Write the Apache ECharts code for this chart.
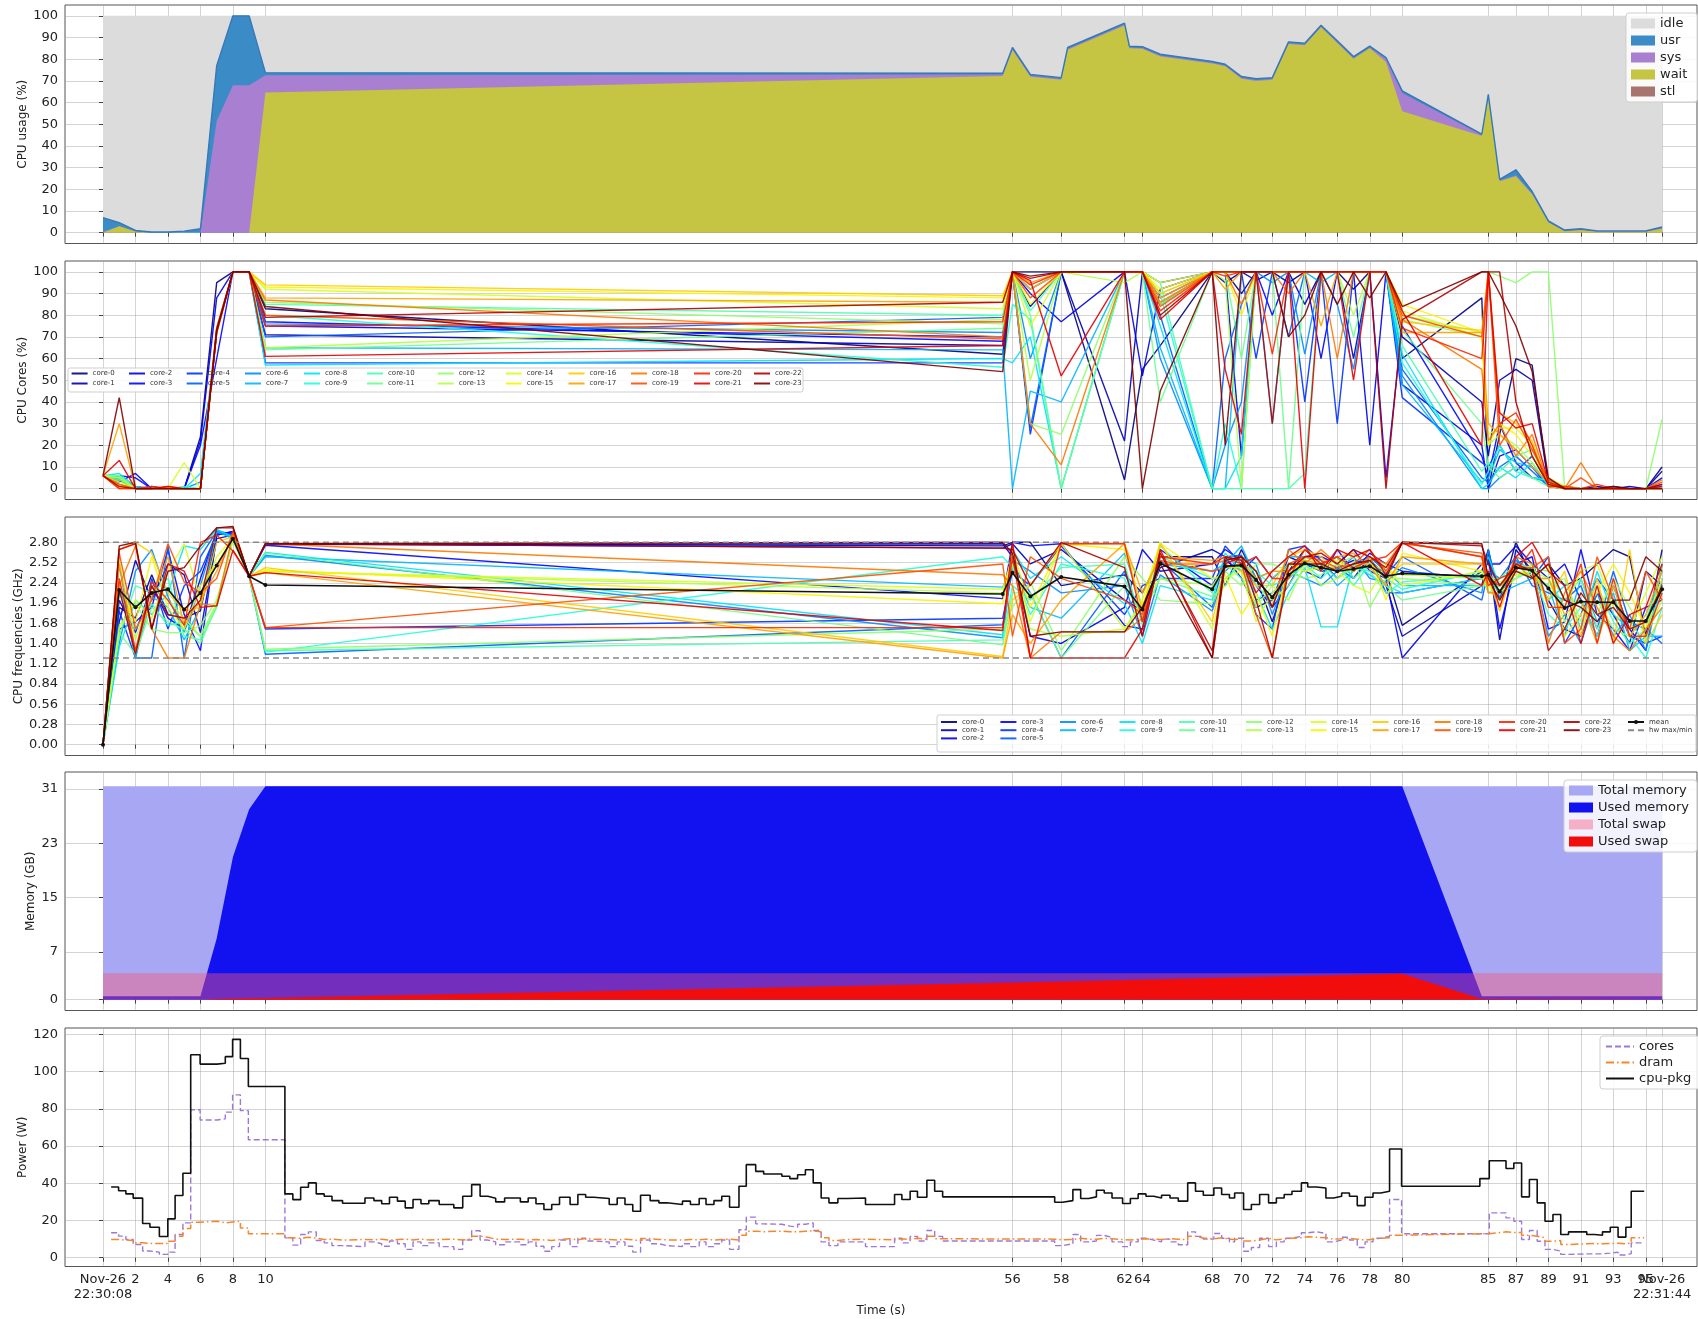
<!DOCTYPE html>
<html>
<head>
<meta charset="utf-8">
<script src="https://cdn.jsdelivr.net/npm/echarts@6/dist/echarts.min.js"></script>
<style>
  html, body { margin: 0; padding: 0; background: #fff; }
  #chart { width: 1698px; height: 1319px; }
</style>
</head>
<body>
<div id="chart"></div>
<script>
// shared x axis: seconds since 22:30:08, ticks sit on sample times
const tickPos = [2, 4, 6, 8, 10, 56, 59, 62.9, 64, 68.3, 70.1, 72, 74, 76, 78, 80, 85.3, 87, 89, 91, 93, 95];
const tickLabels = ['2', '4', '6', '8', '10', '56', '58', '62', '64', '68', '70', '72', '74', '76', '78', '80', '85', '87', '89', '91', '93', '95'];
const endPos = [0, 96];
const endLabels = ['Nov-26\n22:30:08', 'Nov-26\n22:31:44'];
const allTicks = endPos.concat(tickPos);

// ---- CPU usage (%) ----
const usageT = [0, 1, 2, 3, 4, 5, 6, 7, 8, 9, 10, 55.4, 56, 57.1, 59, 59.4, 62.9, 63.2, 64, 65.1, 68.3, 69.1, 70.1, 71, 72, 73, 74, 75, 76, 77, 78, 79, 80, 84.9, 85.3, 86, 87, 88, 89, 90, 91, 92, 93, 94, 95, 96];
const usr  = [6.5, 1.6, 0.5, 0.3, 0.3, 0.7, 1.8, 25.5, 32, 32, 1.2, 0.6, 0.6, 0.6, 0.6, 0.6, 0.6, 0.6, 0.6, 0.6, 0.6, 0.6, 0.6, 0.6, 0.6, 0.6, 0.6, 0.6, 0.6, 0.6, 0.6, 0.6, 1.0, 0.4, 0.6, 0.6, 2.5, 1.0, 0.5, 0.4, 0.5, 0.3, 0.3, 0.3, 0.3, 0.6];
const sys  = [0.4, 0, 0, 0, 0, 0, 0, 51.5, 68, 68, 8, 0.6, 0.5, 0.5, 0.4, 0.4, 0.4, 0.4, 0.4, 0.4, 0.4, 0.4, 0.4, 0.4, 0.4, 0.4, 0.4, 0.4, 0.4, 0.4, 0.4, 1.5, 8.4, 0.4, 0.4, 0.3, 0.5, 0.3, 0.2, 0.2, 0.2, 0.1, 0.1, 0.1, 0.1, 0.2];
const wait = [0, 3, 0.5, 0, 0, 0, 0, 0, 0, 0, 64.6, 72.3, 84.3, 71.9, 70.5, 84.4, 95.6, 85, 84.8, 81.3, 78, 76.7, 71, 70, 70.5, 87, 86.4, 94.7, 87.5, 80.2, 85, 78.7, 56, 44.6, 62.8, 23.7, 26, 17.7, 4.7, 0.6, 1.1, 0.4, 0.4, 0.4, 0.4, 1.8];
const stl  = [0, 0, 0, 0, 0, 0, 0, 0, 0, 0, 0, 0, 0, 0, 0, 0, 0, 0, 0, 0, 0, 0, 0, 0, 0, 0, 0, 0, 0, 0, 0, 0, 0, 0, 0, 0, 0, 0, 0, 0, 0, 0, 0, 0, 0, 0];
const idle = usageT.map((_, i) => +(100 - usr[i] - sys[i] - wait[i] - stl[i]).toFixed(2));

// ---- per-core samples (rows = sample time, columns = core-0 .. core-23) ----
const coreT = [0, 1, 2, 3, 4, 5, 6, 7, 8, 9, 10, 55.4, 56, 57.1, 59, 62.9, 64, 65.1, 68.3, 69.1, 70.1, 71, 72, 73, 74, 75, 76, 77, 78, 79, 80, 84.9, 85.3, 86, 87, 88, 89, 90, 91, 92, 93, 94, 95, 96];

const coreUtil = [
  [6,6,6,6,6,6,6,6,6,6,6,6,6,6,6,6,6,6,6,6,6,6,6,6],
  [5,4,3,6,5,2,6,5,7,6,5,4,6,5,3,2,1,30,0,2,0,13,1,42],
  [1,0,7,5,0,0,0,0,1,0,0,0,0,0,0,0,0,0,0,0,0,0,0,0],
  [0,0,0,0,1,0,0,0,0,0,0,0,0,0,0,0,0,0,0,0,1,0,0,0],
  [0,0,0,0,0,0,0,0,0,0,0,0,0,0,0,0,0,0,0,1,0,1,0,0],
  [0,0,0,0,0,0,0,0,0,1,0,0,0,0,12,0,0,0,0,0,0,0,0,0],
  [24,0,22,20,0,0,3,0,7,0,0,0,0,0,0,0,0,0,0,0,0,0,0,0],
  [95,72,88,60,73,74,72,73,74,73,72,73,74,73,72,73,74,73,72,73,74,72,73,73],
  [100,100,100,100,100,100,100,100,100,100,100,100,100,100,100,100,100,100,100,100,100,100,100,100],
  [100,100,100,100,100,100,100,100,100,100,100,100,100,100,100,100,100,100,100,100,100,100,100,100],
  [83,71,75,77,58,70,76,65,57,80,85,64,86,65,92,93,94,88,87,80,75,61,79,84],
  [62,66,70,68,58,79,72,64,60,56,80,74,76,78,83,88,89,86,70,69,77,66,86,54],
  [100,100,100,100,100,100,100,0,58,85,100,100,100,100,100,100,100,100,100,100,100,100,100,100],
  [100,84,90,92,25,28,60,45,70,78,82,80,30,50,75,85,92,95,30,88,94,96,97,98],
  [100,100,77,100,100,100,100,40,0,0,100,0,25,100,100,100,100,100,11,100,100,52,100,100],
  [4,22,100,100,100,100,100,100,100,100,100,100,100,95,100,100,100,100,100,100,100,100,100,100],
  [55,100,52,100,100,100,100,100,100,100,100,100,100,100,100,100,100,100,100,100,100,100,100,0],
  [66,85,92,95,88,80,60,65,75,90,95,40,85,90,95,92,90,88,86,84,82,78,80,45],
  [100,100,100,100,100,0,0,0,0,0,0,100,100,100,100,100,100,100,100,100,100,100,100,100],
  [100,95,100,100,100,60,20,0,0,30,0,100,100,96,100,100,100,92,100,100,98,55,100,20],
  [90,100,15,100,100,85,40,100,15,0,0,60,100,0,100,80,100,100,85,100,100,25,100,100],
  [100,96,100,100,60,100,100,100,100,100,0,100,100,100,100,100,100,100,100,100,100,100,100,100],
  [100,100,100,80,100,100,95,30,100,100,0,100,100,100,100,100,100,100,100,100,62,100,30,100],
  [95,100,100,100,100,70,100,100,100,100,0,0,100,100,100,100,100,100,90,100,100,100,100,70],
  [100,85,100,100,40,100,62,100,100,100,7,100,100,100,100,100,100,100,100,100,100,0,100,80],
  [100,100,60,100,100,100,100,95,100,100,100,100,100,100,100,100,100,75,100,100,100,100,100,100],
  [100,100,100,100,30,100,85,100,100,100,100,100,100,100,100,100,100,100,60,100,100,100,100,85],
  [92,60,100,100,100,100,55,100,100,100,100,70,100,80,100,100,100,100,100,100,100,50,100,100],
  [100,100,20,100,100,100,100,100,100,100,100,100,100,100,100,100,100,100,100,100,100,100,100,88],
  [100,100,100,5,100,100,100,100,100,100,100,100,100,100,100,100,100,100,100,100,100,100,0,100],
  [60,70,48,75,42,55,52,48,62,58,66,73,78,80,82,85,77,72,78,80,74,82,78,84],
  [88,40,20,15,12,5,0,3,0,2,8,30,70,72,70,72,73,72,55,70,60,20,100,100],
  [0,15,0,5,10,3,0,5,2,8,12,10,100,20,25,20,100,30,22,100,100,100,100,100],
  [25,50,15,30,20,10,5,18,10,20,8,5,98,25,28,30,35,25,30,20,30,35,100,90],
  [60,55,18,12,8,15,10,12,5,8,15,10,95,20,28,25,30,18,15,32,35,28,40,75],
  [57,50,10,5,15,8,5,10,12,5,18,5,100,12,20,15,22,10,25,18,20,30,15,54],
  [2,3,1,4,2,1,3,2,1,4,2,1,100,3,2,5,1,3,2,4,1,3,2,5],
  [1,0,0,1,0,0,1,0,0,0,0,0,1,0,0,1,0,0,0,0,1,0,0,0],
  [0,0,0,0,0,0,0,0,0,0,0,0,0,0,0,0,0,0,12,5,0,0,0,0],
  [0,1,0,0,0,0,0,0,0,0,0,0,0,0,0,0,0,0,0,0,2,0,0,0],
  [1,0,0,0,0,0,0,0,0,0,0,0,0,0,0,0,0,0,0,0,0,0,0,1],
  [0,1,0,0,0,0,0,0,0,0,0,0,0,0,0,0,0,0,0,0,0,0,0,0],
  [0,0,0,0,0,0,0,0,0,0,0,0,0,0,0,0,0,0,0,0,0,0,0,0],
  [10,8,5,2,0,1,0,0,0,0,0,0,32,0,0,0,0,0,4,3,0,1,2,0]
];

const coreFreq = [
  [0,0,0,0,0,0,0,0,0,0,0,0,0,0,0,0,0,0,0,0,0,0,0,0],
  [1.9,1.7,2.0,1.6,1.85,2.5,1.4,2.25,1.35,2.1,1.5,1.55,1.65,2.55,1.6,2.2,2.7,2.5,2.2,2.65,2.3,2.7,2.15,2.75],
  [1.75,2.55,1.55,1.7,1.2,1.2,2.4,1.2,2.0,1.6,2.2,1.25,1.95,1.45,2.0,1.7,2.8,1.3,2.75,1.6,1.3,2.78,1.25,2.8],
  [2.35,2.0,2.2,1.9,2.3,1.2,2.7,2.05,1.8,1.95,2.1,1.9,1.6,2.2,1.75,2.6,2.65,2.05,1.6,2.0,2.25,1.6,2.2,1.6],
  [1.8,2.5,1.75,2.7,1.6,2.75,2.05,1.9,2.1,1.65,2.3,1.7,1.55,2.0,2.4,1.9,2.1,2.6,1.2,2.78,2.0,2.5,1.8,2.4],
  [1.75,2.35,1.6,1.8,2.2,1.2,1.55,1.45,2.75,1.7,1.5,1.6,1.55,1.75,2.78,1.6,1.85,1.65,1.2,2.25,1.65,2.4,1.75,2.45],
  [1.85,1.55,2.3,1.3,2.4,2.6,2.2,1.9,2.7,1.5,1.45,1.4,1.65,1.5,2.0,2.2,1.9,2.0,1.95,2.1,2.8,1.9,2.0,2.75],
  [2.9,2.85,2.95,2.9,2.92,2.95,2.97,2.95,2.98,1.95,1.9,1.92,2.0,1.95,2.6,2.5,2.8,2.4,1.92,2.3,2.9,1.92,3.0,3.0],
  [2.95,2.9,2.92,2.95,2.9,2.9,2.88,2.85,2.87,2.85,2.86,2.85,2.82,2.84,2.86,2.85,2.88,2.9,2.92,2.95,2.68,2.69,3.0,3.02],
  [2.33,2.33,2.33,2.33,2.33,2.33,2.33,2.33,2.33,2.33,2.33,2.33,2.33,2.33,2.33,2.33,2.33,2.33,2.33,2.33,2.33,2.33,2.33,2.33],
  [2.78,2.78,2.77,2.76,1.6,1.25,2.62,2.6,2.66,1.28,1.3,2.65,1.32,2.4,2.4,2.42,2.45,2.38,2.78,1.62,1.62,2.38,2.78,2.78],
  [2.75,2.72,2.78,2.02,1.75,1.66,1.48,2.18,1.52,2.6,1.45,1.38,1.6,2.1,2.15,1.95,1.22,1.2,2.35,2.5,1.62,1.58,2.72,2.8],
  [2.8,2.78,2.6,2.8,2.4,2.5,2.55,2.45,2.7,2.45,2.2,2.1,1.9,2.5,2.6,2.7,2.0,1.8,2.2,1.5,2.6,2.8,2.7,2.65],
  [2.8,2.5,1.5,2.75,2.2,2.1,2.4,1.9,2.3,1.8,2.0,2.1,2.25,1.6,1.7,1.9,2.2,1.4,1.2,2.6,1.2,1.2,2.2,1.5],
  [2.2,2.7,1.4,2.78,2.75,1.2,2.1,1.75,2.6,2.5,2.45,1.2,1.3,1.5,2.78,2.78,2.78,2.0,1.56,2.3,2.78,1.2,2.8,1.56],
  [2.35,2.0,1.9,1.65,1.8,2.4,2.2,2.65,1.95,2.3,2.5,2.2,2.6,1.6,1.6,2.7,2.78,2.78,1.56,2.0,2.78,1.2,2.45,1.56],
  [2.1,1.85,2.7,1.6,2.2,1.7,1.5,1.9,1.4,1.75,1.65,1.8,2.3,1.95,2.0,1.9,1.85,2.1,1.75,1.8,1.7,1.6,1.5,1.9],
  [2.6,2.45,2.4,2.7,2.3,2.55,2.35,2.5,2.2,2.6,2.75,2.3,2.0,2.3,2.8,2.78,2.78,2.6,2.5,2.55,2.6,2.7,2.65,2.5],
  [2.6,2.7,2.5,2.2,2.3,1.9,1.85,2.4,2.0,2.3,2.1,2.05,1.95,2.2,1.6,2.3,1.7,2.55,2.5,2.4,2.5,1.2,1.3,1.2],
  [2.2,2.6,2.7,2.55,2.75,2.6,2.4,2.5,2.65,2.3,2.5,2.2,2.4,2.45,2.3,2.35,2.5,2.6,2.55,2.45,2.6,2.5,2.6,2.55],
  [2.7,2.3,2.55,2.4,2.5,2.62,2.6,2.75,2.4,2.5,2.3,2.6,2.2,2.45,2.4,1.8,2.4,2.55,2.6,2.5,2.5,2.6,2.55,2.6],
  [2.3,1.9,2.2,2.6,1.8,2.0,2.5,2.3,2.1,2.4,1.95,2.2,2.5,1.9,1.7,2.1,2.2,2.3,2.4,1.8,2.6,2.1,2.0,2.4],
  [1.7,2.0,1.9,2.3,1.6,2.1,1.8,2.4,1.6,2.2,2.3,2.0,2.5,2.2,2.1,1.5,2.2,2.4,1.9,1.2,2.3,2.4,1.2,1.9],
  [2.4,2.6,2.2,2.5,2.7,2.3,2.4,2.6,2.1,2.3,2.5,2.2,2.4,2.0,2.3,2.5,2.6,2.4,2.7,2.5,2.3,2.6,2.4,2.5],
  [2.7,2.5,2.6,2.4,2.75,2.5,2.3,2.6,2.45,2.5,2.4,2.55,2.3,2.5,2.6,2.4,2.7,2.55,2.5,2.6,2.7,2.75,2.6,2.5],
  [2.5,2.4,2.6,2.3,2.55,2.4,2.2,2.5,1.63,2.3,2.5,2.4,2.35,2.2,2.5,2.45,2.6,2.5,2.7,2.55,2.5,2.4,2.65,2.5],
  [2.6,2.45,2.5,2.7,2.3,2.45,2.4,2.2,1.63,2.5,2.3,2.6,2.5,2.3,2.4,2.55,2.4,2.6,2.5,2.45,2.6,2.7,2.5,2.4],
  [2.3,2.55,2.7,2.4,2.5,2.3,2.6,2.4,2.5,2.2,2.45,2.3,2.6,2.5,2.2,2.4,2.5,2.65,2.4,2.5,2.45,2.6,2.7,2.5],
  [2.6,2.5,2.4,2.65,2.6,2.55,2.3,2.6,2.35,2.5,2.4,2.5,1.9,2.5,2.1,2.6,2.5,2.45,2.6,2.7,2.55,2.7,2.6,2.55],
  [2.4,2.2,2.3,2.5,2.1,2.35,2.25,2.4,2.2,2.3,2.1,2.2,2.3,2.4,2.5,2.0,2.3,2.2,2.5,2.4,2.6,2.35,2.45,2.3],
  [1.65,1.5,1.2,2.4,2.1,2.6,2.45,2.2,2.1,2.15,2.25,2.0,2.3,2.35,2.2,2.65,2.5,2.6,2.8,2.78,2.8,2.8,2.8,2.8],
  [2.4,2.2,2.5,2.3,2.3,2.0,2.1,2.2,2.3,2.4,2.35,2.2,2.2,2.3,2.4,2.4,2.5,2.5,2.6,2.65,2.6,2.2,2.75,2.78],
  [2.7,2.6,2.5,2.65,2.55,2.4,2.7,2.3,2.6,2.2,2.1,2.3,2.2,2.3,2.1,2.2,2.3,2.4,2.1,2.3,2.2,2.4,2.5,2.3],
  [2.0,1.45,2.5,1.6,2.2,2.3,2.0,2.1,2.2,2.3,2.2,2.3,2.2,2.25,2.1,2.0,1.85,2.1,2.1,2.2,2.3,1.9,2.2,2.0],
  [2.8,2.7,2.75,2.5,2.4,2.6,2.55,2.2,2.3,2.4,2.3,2.5,2.4,2.35,2.3,2.4,2.5,2.5,2.6,2.45,2.4,2.6,2.5,2.4],
  [2.3,2.4,2.5,2.6,2.3,2.2,2.4,2.3,2.5,2.3,2.4,2.45,2.35,2.4,2.5,2.3,2.4,2.3,2.5,2.45,2.7,2.8,2.4,2.3],
  [2.5,2.0,2.3,1.6,2.6,2.1,1.5,2.2,2.0,2.3,1.8,2.4,2.2,2.3,1.9,2.5,2.0,2.3,1.4,2.6,1.9,2.4,1.3,2.5],
  [2.2,1.6,2.5,1.7,1.4,2.0,1.8,1.5,2.2,1.9,1.6,2.0,2.3,1.7,1.9,1.5,2.4,1.8,2.1,1.4,1.9,2.2,1.6,2.0],
  [2.3,1.5,2.0,2.7,1.8,2.2,1.4,2.3,1.6,2.0,1.9,2.3,1.7,2.1,2.4,1.8,1.5,2.0,2.4,1.6,2.5,1.4,2.1,1.9],
  [2.5,2.1,1.5,1.8,2.3,1.6,2.1,1.7,2.4,1.5,2.2,1.6,2.0,1.8,2.5,2.1,2.3,1.4,1.9,2.6,1.4,2.2,1.8,1.7],
  [2.7,1.8,2.2,1.6,2.0,2.4,1.5,2.1,1.8,2.2,1.7,2.0,1.6,2.3,1.9,2.5,1.4,2.2,1.5,2.0,2.3,1.4,1.9,2.0],
  [2.6,1.4,1.6,1.3,1.5,1.7,1.8,1.3,1.6,1.5,1.4,1.7,1.5,1.9,1.6,2.1,2.7,1.5,1.3,1.6,1.5,1.8,1.6,2.0],
  [1.5,2.4,1.3,1.9,1.4,1.6,1.3,1.5,1.7,1.2,1.6,1.4,1.8,1.5,2.1,1.6,1.4,1.8,1.6,2.4,1.5,1.9,1.7,2.6],
  [2.7,2.2,2.5,2.0,1.5,1.4,2.3,1.5,2.4,1.9,2.1,2.5,2.2,2.0,2.6,2.3,1.8,2.4,1.9,2.0,2.1,2.5,2.2,2.4]
];
const freqMean = [0, 2.14, 1.90, 2.10, 2.15, 1.87, 2.10, 2.48, 2.85, 2.33, 2.21, 2.085, 2.38, 2.05, 2.32, 2.19, 1.87, 2.51, 2.15, 2.47, 2.48, 2.28, 2.04, 2.35, 2.51, 2.45, 2.40, 2.43, 2.47, 2.33, 2.37, 2.33, 2.35, 2.12, 2.45, 2.41, 2.16, 1.89, 1.98, 1.97, 1.97, 1.71, 1.71, 2.15];
const hwMax = 2.8, hwMin = 1.2;

// ---- memory (GB) ----
const memT       = [0, 5, 6, 7, 8, 9, 10, 55.4, 80, 84.9, 96];
const memTotal   = [31.4, 31.4, 31.4, 31.4, 31.4, 31.4, 31.4, 31.4, 31.4, 31.4, 31.4];
const memUsed    = [0.5, 0.5, 0.5, 9, 21, 28, 31.4, 31.4, 31.4, 0.5, 0.5];
const swapTotal  = [3.9, 3.9, 3.9, 3.9, 3.9, 3.9, 3.9, 3.9, 3.9, 3.9, 3.9];
const swapUsed   = [0, 0, 0, 0.1, 0.15, 0.2, 0.25, 2.5, 3.8, 0.1, 0.05];

// ---- power (W), each value holds from its time to the next ----
const powerT = [
  0.5, 0.96, 1.41, 1.86, 2.44, 2.89, 3.47, 3.99, 4.44, 4.92,
  5.40, 5.98, 7.02, 7.53, 7.98, 8.46, 8.95, 11.2, 11.69, 12.17,
  12.65, 13.13, 13.62, 14.1, 14.75, 16.13, 16.68, 17.16, 17.64, 18.13,
  18.61, 19.09, 19.58, 20.06, 20.7, 21.6, 22.15, 22.7, 23.22, 23.7,
  24.18, 24.73, 25.7, 26.18, 26.66, 27.15, 27.63, 28.11, 28.76, 29.24,
  29.72, 30.21, 31.17, 31.66, 32.14, 32.62, 33.1, 33.69, 34.23, 34.72,
  35.68, 36.17, 36.71, 37.13, 37.62, 38.1, 38.58, 39.16, 39.61, 40.19,
  40.68, 41.8, 42.29, 42.77, 43.25, 43.73, 44.22, 44.7, 45.25, 45.83,
  46.95, 48.74, 49.19, 49.7, 50.15, 50.73, 51.21, 51.7, 58.6, 59.08,
  59.72, 60.2, 60.69, 61.17, 61.65, 62.13, 62.78, 63.26, 63.74, 64.22,
  64.7, 65.18, 65.7, 66.21, 66.79, 67.27, 67.75, 68.4, 68.88, 69.36,
  69.68, 70.23, 70.71, 71.22, 71.77, 72.25, 72.73, 73.21, 73.79, 74.18,
  74.72, 75.3, 75.78, 76.27, 76.75, 77.23, 77.71, 78.2, 78.68, 79.22,
  79.96, 84.78, 85.36, 86.39, 86.87, 87.35, 87.83, 88.31, 88.79, 89.28,
  89.76, 90.24, 91.36, 91.85, 92.33, 92.81, 93.29, 93.77, 94.1, 94.9
];
const pkgW = [
  38, 36, 34.3, 32, 18.4, 16.4, 11.4, 20.9, 33.4, 45.4,
  109, 104, 104.5, 108, 117.3, 107, 92, 34.3, 31.2, 37.9,
  40.2, 34.3, 33, 30.7, 29.3, 32.1, 30.7, 29, 32.5, 30.4,
  26.8, 31.3, 29, 30.7, 28.6, 26.8, 33, 39.3, 33, 32,
  30, 32.1, 30, 32.1, 29, 25.9, 28.6, 32.5, 28.6, 34,
  32.5, 31.8, 28.6, 32.1, 28.6, 25, 33.6, 30.7, 29.5, 28.6,
  30.4, 28.6, 31.8, 28.6, 30.7, 33, 27.1, 38.4, 50, 46.4,
  45, 43.75, 42.5, 44.6, 47.3, 40.2, 32.1, 29.5, 31.8, 32.1,
  28.6, 34, 31.3, 35.7, 32.5, 41.6, 35.7, 32.7, 29.8, 30.7,
  36.6, 31.8, 32.7, 36.25, 34.8, 32.1, 29.1, 31.8, 34.3, 33,
  32.1, 33.6, 32.1, 30.4, 40.2, 35.7, 33.6, 37.5, 34, 32.1,
  34.8, 25.9, 28.6, 34, 29.5, 32.1, 34, 35.7, 40.2, 38,
  37.5, 32.1, 33, 34.8, 33, 28, 32.5, 34.8, 35.7, 58.4,
  38.4, 42.5, 52.1, 47.9, 50.9, 32.7, 42, 29.5, 19.6, 23.2,
  12.5, 13.9, 12.5, 12.1, 13.9, 16.4, 11.1, 16.4, 35.7, 35.7
];
const coresW = [
  13.4, 11.6, 9.8, 7.1, 3.6, 3, 1.8, 3, 12.5, 18.75,
  79.5, 74, 74.6, 78.2, 87.5, 79, 63.4, 10.7, 6.8, 12.5,
  13.9, 9.3, 8, 6.5, 6, 8.5, 7.5, 6.2, 9, 7.5,
  4.5, 8.5, 6.5, 8, 6, 4.5, 9.5, 14.5, 9.5, 8.5,
  7, 8.5, 7, 8.5, 6.2, 3.5, 6, 9.5, 6, 10.5,
  9, 8.5, 6, 8.5, 6.2, 3, 9.5, 7.5, 6.5, 6,
  7.5, 6, 8.5, 6, 7.5, 9.5, 4.5, 15, 21.8, 18.2,
  18, 17, 16.5, 18, 18.75, 14.6, 8.5, 6.5, 8.5, 8.5,
  6, 10.5, 8, 11.5, 9, 14.6, 11.5, 9, 6.5, 7.5,
  12.5, 8.5, 9, 12, 11, 8.5, 6, 8.5, 10.5, 9.5,
  8.5, 10, 8.5, 7, 13.9, 11.5, 10, 13, 10.5, 8.5,
  10.5, 3.5, 5.5, 10.5, 6, 8.5, 10.5, 11.5, 13.4, 14,
  13, 8.5, 9.5, 11, 9.5, 5.5, 8.5, 10.5, 11.5, 31.25,
  12.9, 12.9, 24.1, 21.4, 19.6, 9.8, 14.6, 8.9, 4.5, 3.6,
  1.8, 2.1, 2.1, 2.1, 2.5, 3, 1.5, 2.2, 8, 8
];
const dramW = [
  9.8, 9.5, 9.3, 8, 7.7, 7.7, 7.7, 8.9, 11.6, 15.7,
  19.1, 19.6, 18.75, 19.2, 19.6, 16, 12.9, 10.7, 10.4, 11,
  10.5, 9.8, 10, 9.5, 9.8, 9.6, 10, 9.5, 9.8, 10,
  9.5, 10, 9.6, 9.8, 10, 9.5, 10.2, 11.6, 11, 10,
  9.8, 10, 9.5, 9.8, 9.6, 9.3, 9.8, 10.2, 9.6, 10.3,
  10, 9.8, 9.5, 10, 9.6, 9.2, 10.3, 9.8, 9.6, 9.5,
  9.8, 9.6, 10, 9.5, 9.8, 10, 9.5, 12.1, 14.3, 14,
  14.3, 14, 13.9, 14.2, 14.5, 13.9, 10.7, 9.3, 9.8, 10,
  9.6, 10.2, 9.8, 10.5, 10, 11.5, 10.2, 10, 9.6, 9.8,
  10.5, 10, 10, 10.5, 10.2, 9.8, 9.5, 9.8, 10.2, 10,
  9.8, 10.2, 10, 9.6, 11.5, 10.6, 10.2, 10.8, 10, 9.8,
  10.2, 9, 9.5, 10.4, 9.6, 10, 10.5, 10.8, 11.3, 11,
  10.8, 10, 10.2, 10.5, 10, 9.5, 10, 10.4, 10.8, 12.1,
  12.9, 12.9, 13.9, 13.5, 13.5, 12.1, 11.5, 10.7, 8.9, 9.2,
  7.1, 7.5, 7.6, 7.5, 7.6, 7.8, 7.5, 8, 10.7, 10.7
];

// ---- layout / style ----
const TOPS = [5, 261, 517, 772, 1028];
const PH = 238.5;
const X_MIN = -2.34, X_MAX = 98.15;
const GRID_C = 'rgba(160,160,160,0.45)';
const TXT = '#222';
const N_CORES = 24;

function jet(v) {
  const c = x => Math.round(255 * Math.max(0, Math.min(1, x)));
  const r = v < 0.35 ? 0 : v < 0.66 ? (v - 0.35) / 0.31 : v < 0.89 ? 1 : 1 - 0.5 * (v - 0.89) / 0.11;
  const g = v < 0.125 ? 0 : v < 0.375 ? (v - 0.125) / 0.25 : v < 0.64 ? 1 : v < 0.91 ? 1 - (v - 0.64) / 0.27 : 0;
  const b = v < 0.11 ? 0.5 + 0.5 * v / 0.11 : v < 0.34 ? 1 : v < 0.65 ? 1 - (v - 0.34) / 0.31 : 0;
  return `rgb(${c(r)},${c(g)},${c(b)})`;
}
const coreColors = Array.from({ length: N_CORES }, (_, i) => jet(i / (N_CORES - 1)));
const coreNames = Array.from({ length: N_CORES }, (_, i) => 'core-' + i);

const pairs = (xs, ys) => xs.map((x, i) => [x, ys[i]]);
const labelFor = (pos, labels) => v => { const k = pos.findIndex(p => Math.abs(p - v) < 1e-6); return k >= 0 ? labels[k] : ''; };

function xAxisFor(i) {
  const last = i === 4;
  return {
    type: 'value', gridIndex: i, min: X_MIN, max: X_MAX, position: 'bottom',
    z: (i === 0 || i === 3) ? 3 : 0,
    axisLine: { show: false },
    axisTick: { show: true, customValues: allTicks, length: 4, lineStyle: { color: '#444' } },
    axisLabel: {
      show: last, customValues: tickPos, interval: 0, fontSize: 13, color: TXT, margin: 6, lineHeight: 15,
      formatter: labelFor(tickPos, tickLabels)
    },
    splitLine: { show: true, lineStyle: { color: GRID_C, width: 1 } },
    name: last ? 'Time (s)' : '', nameLocation: 'middle', nameGap: 38,
    nameTextStyle: { fontSize: 12, color: TXT }
  };
}
// second bottom axis on the last panel that only carries the two date labels
const endAxis = {
  type: 'value', gridIndex: 4, min: X_MIN, max: X_MAX, position: 'bottom',
  axisLine: { show: false }, axisTick: { show: false }, splitLine: { show: false },
  axisLabel: { customValues: endPos, interval: 0, fontSize: 13, color: TXT, margin: 6, lineHeight: 15,
    formatter: labelFor(endPos, endLabels) }
};

function yAxisFor(i, name, min, max, ticks, gap, fmt) {
  return {
    type: 'value', gridIndex: i, min, max,
    z: (i === 0 || i === 3) ? 3 : 0,
    name, nameLocation: 'middle', nameRotate: 90, nameGap: gap, nameMoveOverlap: false,
    nameTextStyle: { fontSize: 12, color: TXT },
    axisLine: { show: false },
    axisTick: { show: true, customValues: ticks, length: 4, lineStyle: { color: '#444' } },
    axisLabel: { customValues: ticks, fontSize: 13, color: TXT, margin: 7, formatter: fmt || (v => String(v)) },
    splitLine: { show: true, lineStyle: { color: GRID_C, width: 1 } }
  };
}

const pctTicks = [0, 10, 20, 30, 40, 50, 60, 70, 80, 90, 100];
const freqTicks = [0, 0.28, 0.56, 0.84, 1.12, 1.40, 1.68, 1.96, 2.24, 2.52, 2.80];
const memTicks = [0, 7, 15, 23, 31];
const powTicks = [0, 20, 40, 60, 80, 100, 120];

const series = [];

// panel 1: stacked cpu usage, drawn as cumulative areas from the top layer down
const layers = [['stl', stl, '#a8756e'], ['wait', wait, '#c5c443'], ['sys', sys, '#a97fd1'], ['usr', usr, '#3b8bc6'], ['idle', idle, '#dcdcdc']];
let running = usageT.map(() => 0);
const cumLayers = layers.map(([name, arr, color]) => {
  running = running.map((v, i) => v + arr[i]);
  return [name, running.slice(), color];
});
cumLayers.slice().reverse().forEach(([name, cum, color]) => {
  series.push({
    name, type: 'line', xAxisIndex: 0, yAxisIndex: 0, symbol: 'none',
    color, itemStyle: { color },
    lineStyle: { width: name === 'usr' ? 1.4 : 0, color: name === 'usr' ? '#3579b8' : color },
    areaStyle: { color, opacity: 1 },
    data: pairs(usageT, cum)
  });
});

// panel 2: per-core usage
for (let c = 0; c < N_CORES; c++) {
  series.push({
    name: coreNames[c], type: 'line', xAxisIndex: 1, yAxisIndex: 1, symbol: 'none',
    color: coreColors[c], lineStyle: { width: 1.4, color: coreColors[c], opacity: 0.9 },
    data: coreT.map((t, i) => [t, coreUtil[i][c]])
  });
}

// panel 3: per-core frequency
for (let c = 0; c < N_CORES; c++) {
  series.push({
    name: coreNames[c], type: 'line', xAxisIndex: 2, yAxisIndex: 2, symbol: 'none',
    color: coreColors[c], lineStyle: { width: 1.4, color: coreColors[c], opacity: 0.9 },
    data: coreT.map((t, i) => [t, coreFreq[i][c]])
  });
}
series.push({
  name: 'hw max/min', type: 'line', xAxisIndex: 2, yAxisIndex: 2, symbol: 'none',
  color: '#888', lineStyle: { width: 1.5, color: '#888', type: [6, 4] },
  data: [[0, hwMax], [96, hwMax], [96, '-'], [0, hwMin], [96, hwMin]]
});
series.push({
  name: 'mean', type: 'line', xAxisIndex: 2, yAxisIndex: 2, symbol: 'circle', symbolSize: 4,
  color: '#111', itemStyle: { color: '#111' }, lineStyle: { width: 1.6, color: '#111' },
  data: pairs(coreT, freqMean)
});

// panel 4: memory
[['Total memory', memTotal, '#a7a7f3'], ['Used memory', memUsed, '#1212f0'],
 ['Total swap', swapTotal, 'rgba(250,85,120,0.42)'], ['Used swap', swapUsed, '#f20d0d']]
  .forEach(([name, arr, color]) => {
    series.push({
      name, type: 'line', xAxisIndex: 3, yAxisIndex: 3, symbol: 'none',
      color, itemStyle: { color }, lineStyle: { width: 0 },
      areaStyle: { color, opacity: 1 },
      data: pairs(memT, arr)
    });
  });

// panel 5: power (step)
const steps = (arr) => powerT.map((t, i) => [t, arr[i]]);
series.push({
  name: 'cores', type: 'line', xAxisIndex: 4, yAxisIndex: 4, symbol: 'none', step: 'end',
  color: '#9d78d8', lineStyle: { width: 1.4, color: '#9d78d8', type: [6, 3] },
  data: steps(coresW)
});
series.push({
  name: 'dram', type: 'line', xAxisIndex: 4, yAxisIndex: 4, symbol: 'none', step: 'end',
  color: '#f7862a', lineStyle: { width: 1.5, color: '#f7862a', type: [8, 3, 1.5, 3] },
  data: steps(dramW)
});
series.push({
  name: 'cpu-pkg', type: 'line', xAxisIndex: 4, yAxisIndex: 4, symbol: 'none', step: 'end',
  color: '#111', lineStyle: { width: 1.6, color: '#111' },
  data: steps(pkgW)
});

// legends
const boxLegend = (extra) => Object.assign({
  orient: 'vertical', selectedMode: false, z: 6,
  textStyle: { fontSize: 13, color: TXT },
  backgroundColor: 'rgba(255,255,255,0.85)', borderColor: '#cfcfcf', borderWidth: 1, borderRadius: 3
}, extra);

const legends = [
  boxLegend({ data: ['idle', 'usr', 'sys', 'wait', 'stl'], left: 1626, top: 13, icon: 'rect',
    itemWidth: 24, itemHeight: 10, itemGap: 4, padding: [4, 10, 4, 5] }),
  boxLegend({ data: ['Total memory', 'Used memory', 'Total swap', 'Used swap'], left: 1564, top: 780, icon: 'rect',
    itemWidth: 24, itemHeight: 10, itemGap: 4, padding: [4, 8, 4, 5] }),
  boxLegend({ data: ['cores', 'dram', 'cpu-pkg'], left: 1600, top: 1036,
    itemWidth: 28, itemHeight: 10, itemGap: 3, padding: [4, 8, 4, 5], itemStyle: { opacity: 0 } })
];

const smallLegend = (names, left, top, gap) => ({
  orient: 'vertical', selectedMode: false, z: 6, left, top, padding: 0,
  itemWidth: 16, itemHeight: 5, itemGap: gap,
  itemStyle: { opacity: 0 },
  textStyle: { fontSize: 7, color: '#333' },
  data: names.map(n => n === 'mean' ? { name: n, itemStyle: { opacity: 1 } } : n)
});

const cpuCols = [70.6, 128, 185.7, 244, 303, 366, 436.7, 504.7, 567.5, 630, 693, 753];
cpuCols.forEach((x, k) => legends.push(smallLegend([coreNames[2 * k], coreNames[2 * k + 1]], x, 370, 3)));

const freqCols = [940, 999.4, 1059, 1118.5, 1178, 1245, 1309.6, 1371.6, 1433.6, 1498, 1562.7, 1627];
const freqGroups = [[0, 1, 2], [3, 4, 5], [6, 7], [8, 9], [10, 11], [12, 13], [14, 15], [16, 17], [18, 19], [20, 21], [22, 23]];
freqGroups.forEach((g, k) => legends.push(smallLegend(g.map(i => coreNames[i]), freqCols[k], 718.5, 1.2)));
legends.push(smallLegend(['mean', 'hw max/min'], freqCols[11], 718.5, 1.2));

const chart = echarts.init(document.getElementById('chart'), null, { renderer: 'canvas' });
chart.setOption({
  animation: false,
  backgroundColor: '#fff',
  textStyle: { fontFamily: 'DejaVu Sans' },
  grid: TOPS.map(t => ({ left: 65, right: 1, top: t, height: PH, show: true, borderColor: '#555', borderWidth: 1, backgroundColor: 'transparent' })),
  xAxis: [0, 1, 2, 3, 4].map(xAxisFor).concat([endAxis]),
  yAxis: [
    yAxisFor(0, 'CPU usage (%)', -5, 105, pctTicks, 36),
    yAxisFor(1, 'CPU Cores (%)', -5, 105, pctTicks, 36),
    yAxisFor(2, 'CPU frequencies (GHz)', -0.15, 3.15, freqTicks, 40, v => v.toFixed(2)),
    yAxisFor(3, 'Memory (GB)', -1.6, 33.5, memTicks, 28),
    yAxisFor(4, 'Power (W)', -4.7, 123.4, powTicks, 36)
  ],
  legend: legends,
  graphic: [
    { type: 'rect', z: 3, shape: { x: 68, y: 368, width: 735, height: 24, r: 2 }, style: { fill: 'rgba(255,255,255,0.85)', stroke: '#cfcfcf', lineWidth: 1 } },
    { type: 'rect', z: 3, shape: { x: 937, y: 715, width: 759, height: 37, r: 2 }, style: { fill: 'rgba(255,255,255,0.85)', stroke: '#cfcfcf', lineWidth: 1 } }
  ],
  series
});
</script>
</body>
</html>
